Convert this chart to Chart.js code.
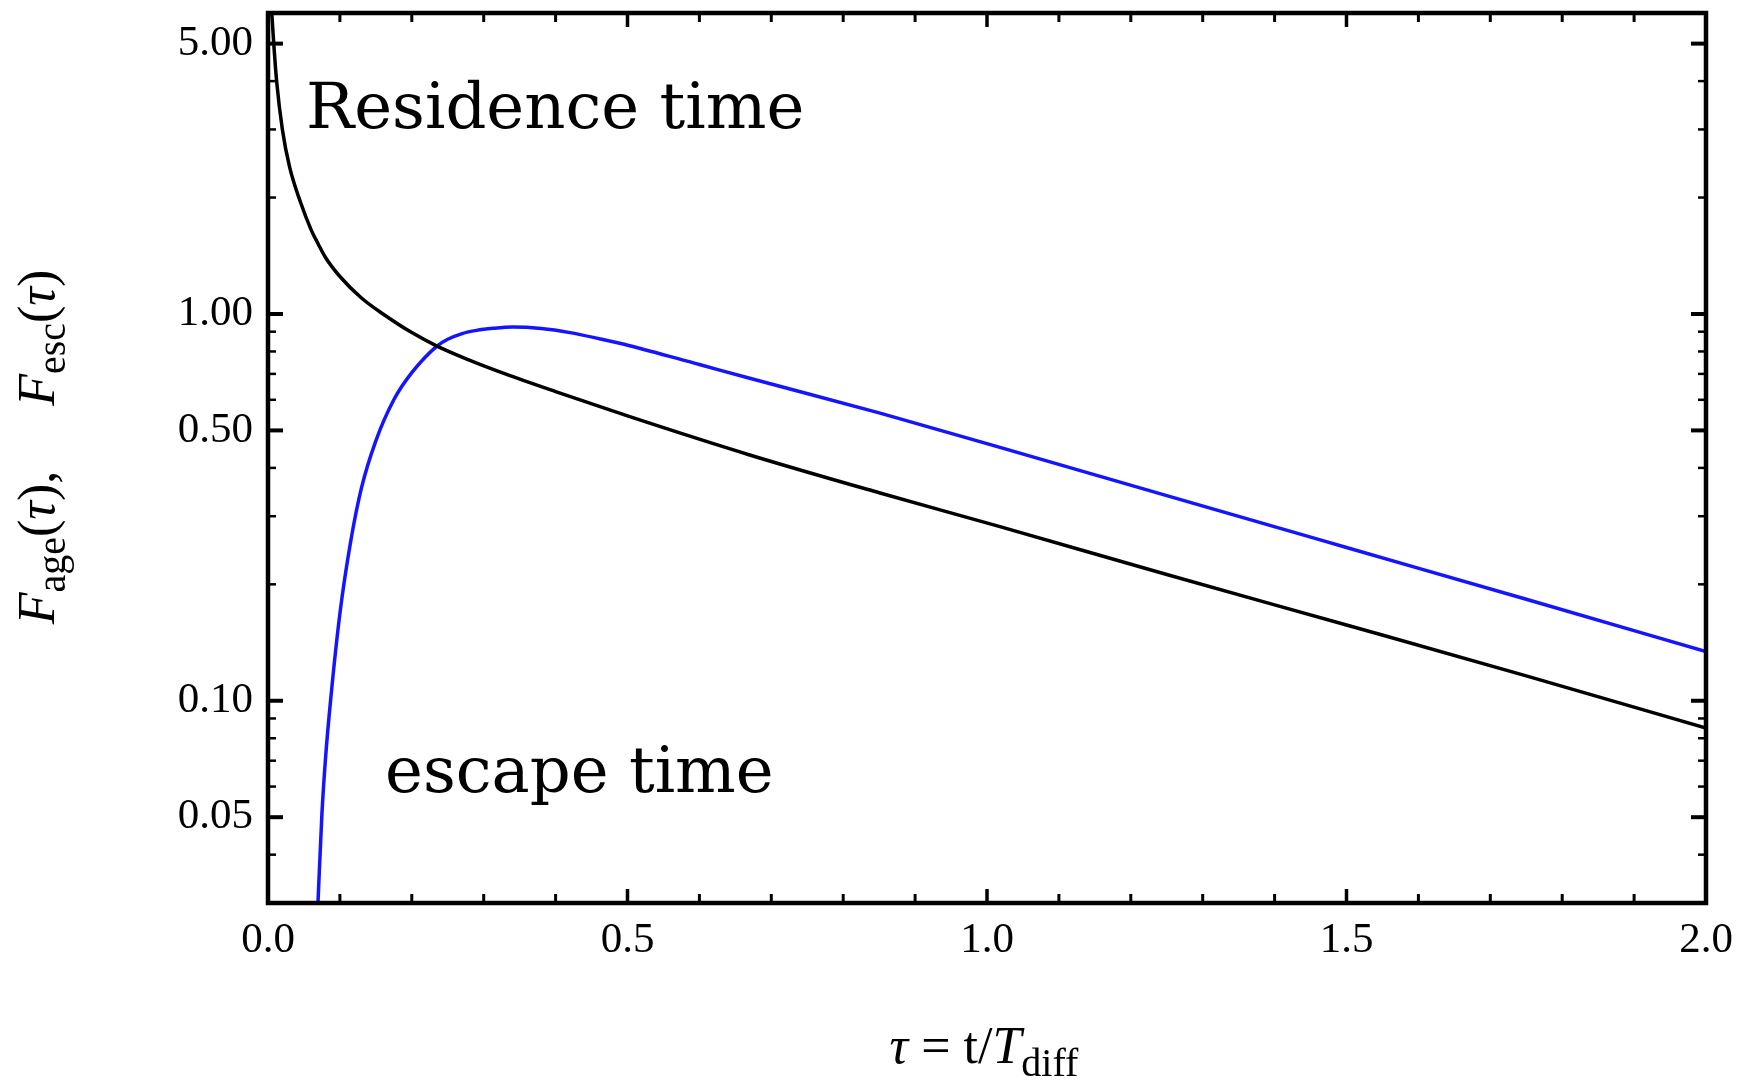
<!DOCTYPE html>
<html>
<head>
<meta charset="utf-8">
<script src="https://cdn.jsdelivr.net/npm/chart.js@4/dist/chart.umd.min.js"></script>
<style>
  html, body { margin: 0; padding: 0; background: #fff; }
  #wrap { width: 1743px; height: 1087px; }
</style>
</head>
<body>
<div id="wrap"><canvas id="fChart" width="1743" height="1087"></canvas></div>
<script>
// F_age(tau) - residence time (black)
const tauAge = [0.005, 0.008, 0.012, 0.020, 0.030, 0.045, 0.060, 0.070, 0.080, 0.100, 0.130, 0.160, 0.200, 0.235, 0.280, 0.330, 0.400, 0.500, 0.670, 0.850, 1.018, 1.250, 1.500, 1.750, 2.000];
const fAge   = [6.1, 5.0, 4.0, 3.0, 2.4, 1.95, 1.65, 1.515, 1.40, 1.25, 1.10, 1.00, 0.895, 0.826, 0.76, 0.70, 0.63, 0.545, 0.432, 0.345, 0.282, 0.212, 0.157, 0.116, 0.085];

// F_esc(tau) - escape time (blue)
const tauEsc = [0.0695, 0.075, 0.080, 0.087, 0.100, 0.115, 0.130, 0.150, 0.175, 0.200, 0.235, 0.250, 0.270, 0.290, 0.313, 0.340, 0.380, 0.420, 0.462, 0.503, 0.600, 0.670, 0.850, 1.018, 1.250, 1.500, 1.750, 2.000];
const fEsc   = [0.030, 0.051, 0.071, 0.100, 0.168, 0.258, 0.355, 0.470, 0.600, 0.705, 0.826, 0.860, 0.890, 0.907, 0.918, 0.925, 0.917, 0.895, 0.862, 0.828, 0.740, 0.682, 0.555, 0.452, 0.339, 0.249, 0.183, 0.134];

// axis ticks
const xLabelTicks = [0, 0.5, 1.0, 1.5, 2.0];
const xMinorTicks = [0.1, 0.2, 0.3, 0.4, 0.6, 0.7, 0.8, 0.9, 1.1, 1.2, 1.3, 1.4, 1.6, 1.7, 1.8, 1.9];
const yLabelTicks = [0.05, 0.1, 0.5, 1, 5];
const yMinorTicks = [0.04, 0.06, 0.07, 0.08, 0.09, 0.2, 0.3, 0.4, 0.6, 0.7, 0.8, 0.9, 2, 3, 4];

const serif = '"Liberation Serif", "Times New Roman", serif';
const toPts = (xs, ys) => xs.map((x, i) => ({ x: x, y: ys[i] }));

// frame + inward tick marks on all four sides
const frameTicks = {
    id: 'frameTicks',
    afterDatasetsDraw(chart) {
        const { ctx, chartArea: a, scales: { x, y } } = chart;
        ctx.save();
        ctx.strokeStyle = '#000';
        const seg = (x1, y1, x2, y2, w) => {
            ctx.lineWidth = w;
            ctx.beginPath();
            ctx.moveTo(x1, y1);
            ctx.lineTo(x2, y2);
            ctx.stroke();
        };
        xLabelTicks.forEach(v => {
            const px = x.getPixelForValue(v);
            seg(px, a.bottom, px, a.bottom - 14, 3.5);
            seg(px, a.top, px, a.top + 14, 3.5);
        });
        xMinorTicks.forEach(v => {
            const px = x.getPixelForValue(v);
            seg(px, a.bottom, px, a.bottom - 9, 3);
            seg(px, a.top, px, a.top + 9, 3);
        });
        yLabelTicks.forEach(v => {
            const py = y.getPixelForValue(v);
            seg(a.left, py, a.left + 15, py, 4);
            seg(a.right, py, a.right - 15, py, 4);
        });
        yMinorTicks.forEach(v => {
            const py = y.getPixelForValue(v);
            seg(a.left, py, a.left + 8, py, 2.5);
            seg(a.right, py, a.right - 8, py, 2.5);
        });
        ctx.lineWidth = 4.5;
        ctx.strokeRect(a.left, a.top, a.width, a.height);
        ctx.restore();
    }
};

// draws a run of text pieces (italic / subscript) centred on (cx, cy baseline)
function drawRich(ctx, pieces, cx, cy) {
    let total = 0;
    pieces.forEach(p => { ctx.font = p.font; total += ctx.measureText(p.t).width; });
    let xPos = cx - total / 2;
    ctx.textAlign = 'left';
    ctx.textBaseline = 'alphabetic';
    pieces.forEach(p => {
        ctx.font = p.font;
        ctx.fillText(p.t, xPos, cy + (p.dy || 0));
        xPos += ctx.measureText(p.t).width;
    });
}

const titles = {
    id: 'titles',
    afterDraw(chart) {
        const { ctx, chartArea: a } = chart;
        const reg = '52px ' + serif, ita = 'italic 52px ' + serif, sub = '40px ' + serif;
        ctx.save();
        ctx.fillStyle = '#000';

        // x axis title
        drawRich(ctx, [
            { t: 'τ', font: ita },
            { t: ' = t/', font: reg },
            { t: 'T', font: ita },
            { t: 'diff', font: sub, dy: 13 }
        ], 984, 1063);

        // y axis title
        ctx.translate(54, 447);
        ctx.rotate(-Math.PI / 2);
        drawRich(ctx, [
            { t: 'F', font: ita },
            { t: 'age', font: sub, dy: 11 },
            { t: '(', font: reg },
            { t: 'τ', font: ita },
            { t: '),', font: reg },
            { t: '     ', font: reg },
            { t: 'F', font: ita },
            { t: 'esc', font: sub, dy: 11 },
            { t: '(', font: reg },
            { t: 'τ', font: ita },
            { t: ')', font: reg }
        ], 0, 0);
        ctx.restore();

        // curve annotations
        ctx.save();
        ctx.fillStyle = '#000';
        ctx.font = '64px "DejaVu Serif", serif';
        ctx.textAlign = 'left';
        ctx.textBaseline = 'alphabetic';
        ctx.fillText('Residence time', a.left + 38, a.top + 115);
        ctx.fillText('escape time', a.left + 117, a.bottom - 111);
        ctx.restore();
    }
};

new Chart(document.getElementById('fChart'), {
    type: 'line',
    data: {
        datasets: [
            {
                label: 'F_age',
                data: toPts(tauAge, fAge),
                borderColor: '#000000',
                borderWidth: 3.5,
                pointRadius: 0,
                cubicInterpolationMode: 'monotone',
                fill: false
            },
            {
                label: 'F_esc',
                data: toPts(tauEsc, fEsc),
                borderColor: '#1414ff',
                borderWidth: 3.5,
                pointRadius: 0,
                cubicInterpolationMode: 'monotone',
                fill: false
            }
        ]
    },
    options: {
        responsive: false,
        animation: false,
        devicePixelRatio: 1,
        layout: { padding: { top: 13, right: 37, left: 0, bottom: 0 } },
        plugins: {
            legend: { display: false },
            tooltip: { enabled: false }
        },
        scales: {
            x: {
                type: 'linear',
                min: 0,
                max: 2,
                grid: { display: false, drawTicks: false },
                border: { display: false },
                afterBuildTicks: s => { s.ticks = xLabelTicks.map(v => ({ value: v })); },
                afterFit: s => { s.height = 184; s.paddingLeft = 0; s.paddingRight = 0; },
                ticks: {
                    color: '#000',
                    padding: 12,
                    maxRotation: 0,
                    font: { family: serif, size: 43 },
                    callback: v => Number(v).toFixed(1)
                }
            },
            y: {
                type: 'logarithmic',
                min: 0.03,
                max: 6,
                grid: { display: false, drawTicks: false },
                border: { display: false },
                afterBuildTicks: s => { s.ticks = yLabelTicks.map(v => ({ value: v })); },
                afterFit: s => { s.width = 268; s.paddingTop = 0; s.paddingBottom = 0; },
                ticks: {
                    color: '#000',
                    padding: 15,
                    font: { family: serif, size: 43 },
                    callback: v => Number(v).toFixed(2)
                }
            }
        }
    },
    plugins: [frameTicks, titles]
});
</script>
</body>
</html>
